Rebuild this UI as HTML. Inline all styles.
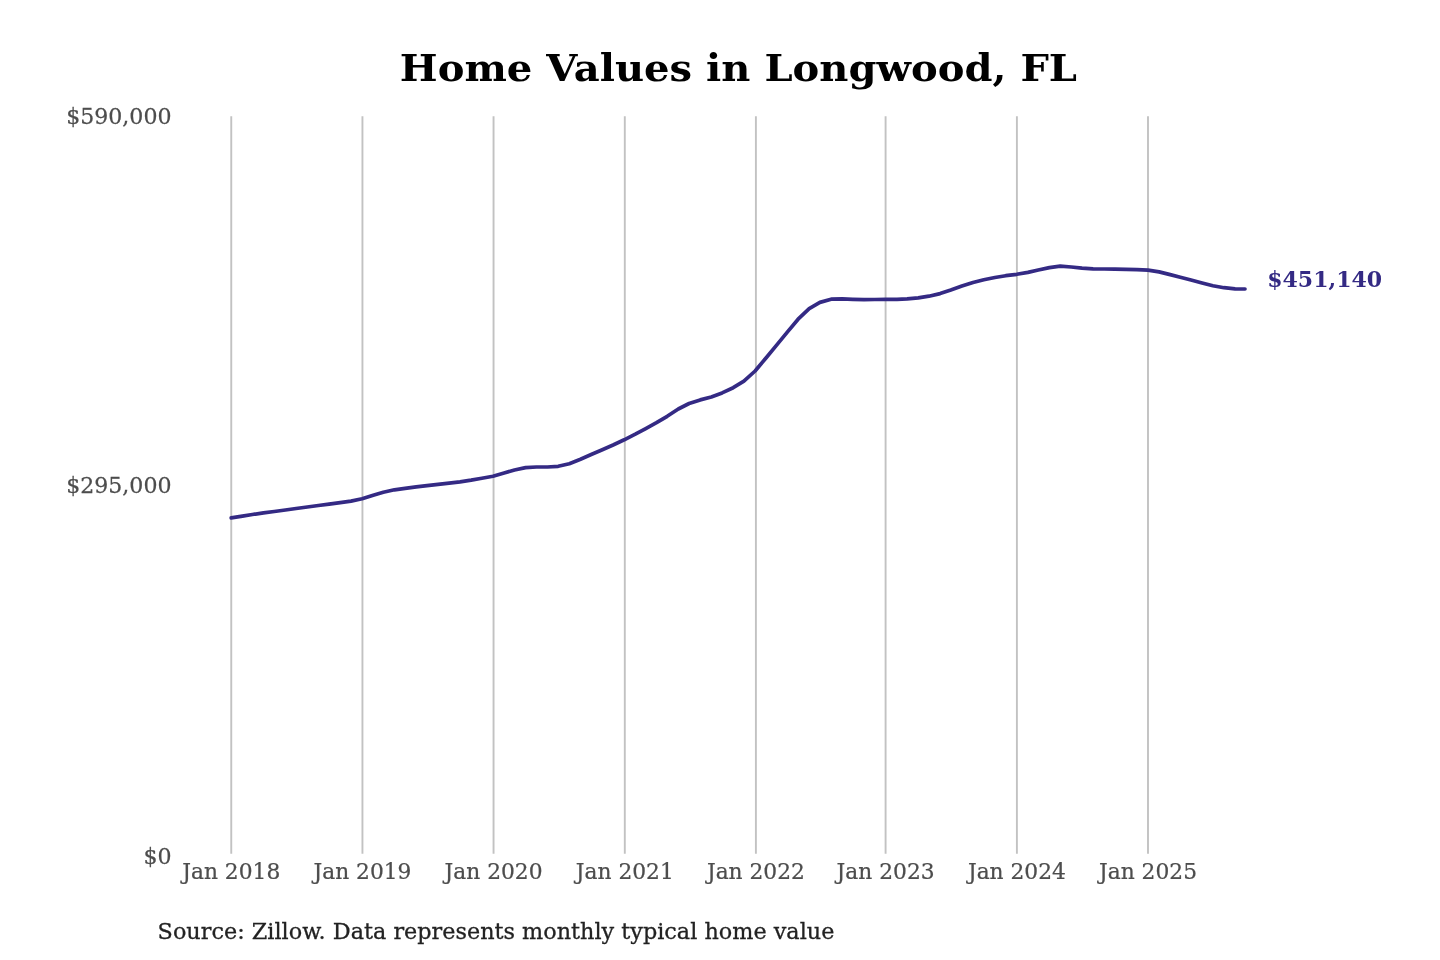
<!DOCTYPE html>
<html lang="en">
<head>
<meta charset="utf-8">
<title>Home Values in Longwood, FL</title>
<style>
html,body{margin:0;padding:0;background:#fff;}
body{width:1440px;height:960px;overflow:hidden;}
svg{display:block;font-family:"DejaVu Serif","Liberation Serif",serif;}
.title{font-weight:bold;font-size:37.6px;fill:#000000;}
.grid line{stroke:#c2c2c2;stroke-width:1.9;}
.xl text{font-size:23.2px;fill:#4d4d4d;stroke:#4d4d4d;stroke-width:0.25px;}
.yl text{font-size:23.2px;fill:#4d4d4d;stroke:#4d4d4d;stroke-width:0.25px;}
.src{font-size:23.2px;fill:#222222;stroke:#222222;stroke-width:0.3px;}
.end{font-weight:bold;font-size:23.2px;fill:#342a84;}
.line{fill:none;stroke:#342a84;stroke-width:3.7;stroke-linecap:round;stroke-linejoin:round;}
</style>
</head>
<body>
<svg width="1440" height="960" viewBox="0 0 1440 960">
<rect width="1440" height="960" fill="#ffffff"/>
<text class="title" transform="translate(738.45 81.25) scale(1.066 1)" text-anchor="middle">Home Values in Longwood, FL</text>
<g class="grid">
<line x1="231.25" y1="116.3" x2="231.25" y2="853.7"/>
<line x1="362.44" y1="116.3" x2="362.44" y2="853.7"/>
<line x1="493.55" y1="116.3" x2="493.55" y2="853.7"/>
<line x1="624.8" y1="116.3" x2="624.8" y2="853.7"/>
<line x1="755.9" y1="116.3" x2="755.9" y2="853.7"/>
<line x1="885.6" y1="116.3" x2="885.6" y2="853.7"/>
<line x1="1016.9" y1="116.3" x2="1016.9" y2="853.7"/>
<line x1="1148.0" y1="116.3" x2="1148.0" y2="853.7"/>
</g>
<g class="yl">
<text transform="translate(171.5 124.4) scale(0.952 1)" text-anchor="end">$590,000</text>
<text transform="translate(171.5 492.5) scale(0.952 1)" text-anchor="end">$295,000</text>
<text transform="translate(171.5 863.75) scale(0.952 1)" text-anchor="end">$0</text>
</g>
<g class="xl">
<text transform="translate(231.25 879.4) scale(0.938 1)" text-anchor="middle">Jan 2018</text>
<text transform="translate(362.44 879.4) scale(0.938 1)" text-anchor="middle">Jan 2019</text>
<text transform="translate(493.55 879.4) scale(0.938 1)" text-anchor="middle">Jan 2020</text>
<text transform="translate(624.8 879.4) scale(0.938 1)" text-anchor="middle">Jan 2021</text>
<text transform="translate(755.9 879.4) scale(0.938 1)" text-anchor="middle">Jan 2022</text>
<text transform="translate(885.6 879.4) scale(0.938 1)" text-anchor="middle">Jan 2023</text>
<text transform="translate(1016.9 879.4) scale(0.938 1)" text-anchor="middle">Jan 2024</text>
<text transform="translate(1148.0 879.4) scale(0.938 1)" text-anchor="middle">Jan 2025</text>
</g>
<path class="line" d="M231.2 517.9 L242.4 516.2 L252.4 514.5 L263.5 512.9 L274.3 511.5 L285.4 510.0 L296.1 508.5 L307.3 507.0 L318.4 505.5 L329.1 504.1 L340.2 502.7 L351.0 501.1 L362.1 498.8 L373.2 495.2 L383.3 492.2 L394.4 489.8 L405.1 488.3 L416.2 486.9 L427.0 485.6 L438.1 484.3 L449.2 483.1 L460.0 481.8 L471.1 480.1 L481.9 478.2 L493.0 476.2 L504.1 473.0 L514.5 470.0 L525.6 467.6 L536.4 467.0 L547.5 467.0 L558.2 466.3 L569.3 463.7 L580.5 459.2 L591.2 454.5 L602.3 449.7 L613.1 445.0 L624.2 439.8 L635.3 434.2 L645.3 428.8 L656.5 422.7 L667.2 416.3 L678.3 409.0 L689.1 403.5 L700.2 399.9 L711.3 397.0 L722.1 392.9 L733.2 387.7 L743.9 381.2 L755.1 371.0 L766.2 357.7 L776.2 345.6 L787.3 332.1 L798.1 319.2 L809.2 308.6 L819.9 302.4 L831.1 299.2 L842.2 298.8 L852.9 299.3 L864.0 299.6 L874.8 299.5 L885.9 299.4 L897.0 299.4 L907.1 298.9 L918.2 297.9 L928.9 296.2 L940.1 293.6 L950.8 290.1 L961.9 286.1 L973.0 282.5 L983.8 279.8 L994.9 277.5 L1005.7 275.7 L1016.8 274.3 L1027.9 272.4 L1038.3 270.0 L1049.4 267.6 L1060.2 266.2 L1071.3 267.0 L1082.0 268.1 L1093.1 268.8 L1104.3 269.0 L1115.0 269.2 L1126.1 269.4 L1136.9 269.7 L1148.0 270.1 L1159.1 271.9 L1169.2 274.4 L1180.3 277.2 L1191.0 280.0 L1202.1 283.0 L1212.9 285.7 L1224.0 287.7 L1235.1 288.8 L1245.0 289.0"/>
<text class="end" transform="translate(1267.2 287) scale(0.95 1)">$451,140</text>
<text class="src" transform="translate(157.6 939.25) scale(0.963 1)">Source: Zillow. Data represents monthly typical home value</text>
</svg>
</body>
</html>
